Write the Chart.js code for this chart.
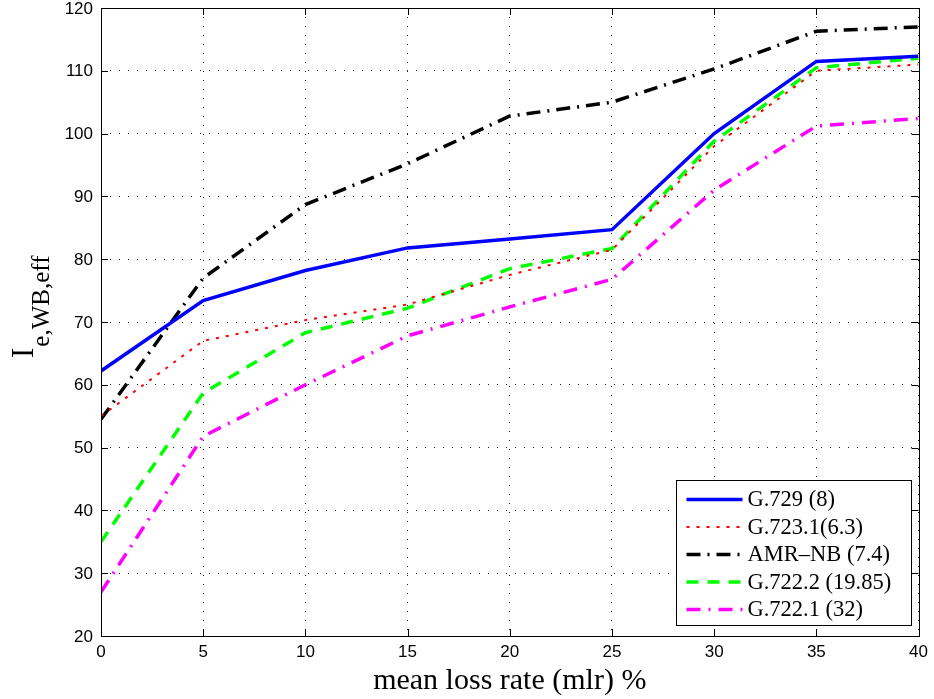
<!DOCTYPE html>
<html>
<head>
<meta charset="utf-8">
<script src="https://cdn.jsdelivr.net/npm/chart.js@4/dist/chart.umd.min.js"></script>
<style>
    body { margin: 0; background: #fff; }
    #wrap { width: 934px; height: 699px; }
</style>
</head>
<body>
<div id="wrap"><canvas id="grafico" width="934" height="699"></canvas></div>
<script>
// Dados
const mlr = [0, 5, 10, 15, 20, 25, 30, 35, 40];
const g729 = [62.2, 73.4, 78.2, 81.8, 83.2, 84.7, 100.0, 111.5, 112.3];
const g7231 = [55.0, 67.0, 70.3, 72.8, 77.5, 81.5, 98.0, 110.0, 111.0];
const amrNb = [54.5, 77.0, 88.7, 95.2, 102.8, 105.0, 110.3, 116.3, 117.0];
const g7222 = [35.0, 58.7, 68.3, 72.2, 78.5, 81.7, 98.8, 110.5, 112.0];
const g7221 = [27.0, 51.8, 60.0, 67.8, 72.4, 76.8, 91.0, 101.2, 102.4];

const rotulos = ['G.729 (8)', 'G.723.1(6.3)', 'AMR\u2013NB (7.4)', 'G.722.2 (19.85)', 'G.722.1 (32)'];
const xTicks = [0, 5, 10, 15, 20, 25, 30, 35, 40];
const yTicks = [20, 30, 40, 50, 60, 70, 80, 90, 100, 110, 120];

const pontos = (valores) => mlr.map((x, i) => ({ x, y: valores[i] }));

const estilos = [
    { cor: '#0000ff', largura: 3.5, traco: [] },
    { cor: '#ff0000', largura: 2, traco: [3, 7] },
    { cor: '#000000', largura: 3.5, traco: [14, 7, 2, 7] },
    { cor: '#00ff00', largura: 3.5, traco: [12, 9] },
    { cor: '#ff00ff', largura: 3.5, traco: [14, 8, 2, 8] }
];
const series = [g729, g7231, amrNb, g7222, g7221];

// Eixos com marcas para dentro, caixa, rótulos do eixo y, título do eixo y e legenda
const moldura = {
    id: 'moldura',
    afterDraw(chart) {
        const { ctx, chartArea: a, scales } = chart;
        ctx.save();
        ctx.strokeStyle = '#000';
        ctx.lineWidth = 1;
        ctx.setLineDash([]);
        ctx.beginPath();
        xTicks.forEach(v => {
            const px = Math.round(scales.x.getPixelForValue(v)) + 0.5;
            ctx.moveTo(px, a.bottom); ctx.lineTo(px, a.bottom - 7);
            ctx.moveTo(px, a.top); ctx.lineTo(px, a.top + 7);
        });
        yTicks.forEach(v => {
            const py = Math.round(scales.y.getPixelForValue(v)) + 0.5;
            ctx.moveTo(a.left, py); ctx.lineTo(a.left + 7, py);
            ctx.moveTo(a.right, py); ctx.lineTo(a.right - 7, py);
        });
        ctx.stroke();
        ctx.strokeRect(Math.round(a.left) + 0.5, Math.round(a.top) + 0.5,
            Math.round(a.right - a.left), Math.round(a.bottom - a.top));

        // rótulos do eixo y
        ctx.fillStyle = '#000';
        ctx.font = '17px "Liberation Sans"';
        ctx.textAlign = 'right';
        ctx.textBaseline = 'middle';
        yTicks.forEach(v => {
            ctx.fillText(String(v), a.left - 8, scales.y.getPixelForValue(v) + 1);
        });

        // título do eixo y: I com índice e,WB,eff
        const cy = (a.top + a.bottom) / 2;
        ctx.translate(33, cy + 36);
        ctx.rotate(-Math.PI / 2);
        ctx.textBaseline = 'alphabetic';
        ctx.textAlign = 'left';
        ctx.font = '31px "Liberation Serif"';
        ctx.fillText('I', 0, 0);
        const wI = ctx.measureText('I').width;
        ctx.font = '25px "Liberation Serif"';
        ctx.fillText('e,WB,eff', wI + 1, 16);
        ctx.restore();

        // legenda
        ctx.save();
        const lw = 235, lh = 145;
        const lx = Math.round(a.right - 8 - lw) + 0.5;
        const ly = Math.round(a.bottom - 11 - lh) + 0.5;
        ctx.fillStyle = '#fff';
        ctx.fillRect(lx, ly, lw, lh);
        ctx.strokeStyle = '#000';
        ctx.lineWidth = 1;
        ctx.strokeRect(lx, ly, lw, lh);
        ctx.font = '22.5px "Liberation Serif"';
        ctx.textBaseline = 'middle';
        ctx.fillStyle = '#000';
        chart.data.datasets.forEach((ds, i) => {
            const y = ly + 19 + i * 27.5;
            ctx.strokeStyle = ds.borderColor;
            ctx.lineWidth = ds.borderWidth;
            ctx.setLineDash(ds.borderDash);
            ctx.beginPath();
            ctx.moveTo(lx + 10, y);
            ctx.lineTo(lx + 66, y);
            ctx.stroke();
            ctx.setLineDash([]);
            ctx.fillText(ds.label, lx + 71, y + 1);
        });
        ctx.restore();
    }
};

new Chart(document.getElementById('grafico'), {
    type: 'line',
    data: {
        datasets: series.map((s, i) => ({
            label: rotulos[i],
            data: pontos(s),
            borderColor: estilos[i].cor,
            borderWidth: estilos[i].largura,
            borderDash: estilos[i].traco,
            pointRadius: 0,
            tension: 0,
            fill: false
        }))
    },
    options: {
        responsive: false,
        animation: false,
        layout: { autoPadding: false, padding: { top: 8, right: 15, left: 0, bottom: 0 } },
        plugins: {
            legend: { display: false },
            tooltip: { enabled: false }
        },
        scales: {
            x: {
                type: 'linear',
                min: 0,
                max: 40,
                afterBuildTicks: (s) => { s.ticks = xTicks.map(v => ({ value: v })); },
                afterFit: (s) => { s.height = 63; },
                grid: { color: '#222', lineWidth: 1, drawTicks: false },
                border: { display: false, dash: [1, 8] },
                ticks: { color: '#000', padding: 6, font: { family: '"Liberation Sans"', size: 17 } },
                title: {
                    display: true,
                    text: 'mean loss rate (mlr) %',
                    color: '#000',
                    padding: { top: -3, bottom: 0 },
                    font: { family: '"Liberation Serif"', size: 30 }
                }
            },
            y: {
                min: 20,
                max: 120,
                afterBuildTicks: (s) => { s.ticks = yTicks.map(v => ({ value: v })); },
                afterFit: (s) => { s.width = 101; },
                grid: { color: '#222', lineWidth: 1, drawTicks: false },
                border: { display: false, dash: [1, 8] },
                ticks: { display: false }
            }
        }
    },
    plugins: [moldura]
});
</script>
</body>
</html>
